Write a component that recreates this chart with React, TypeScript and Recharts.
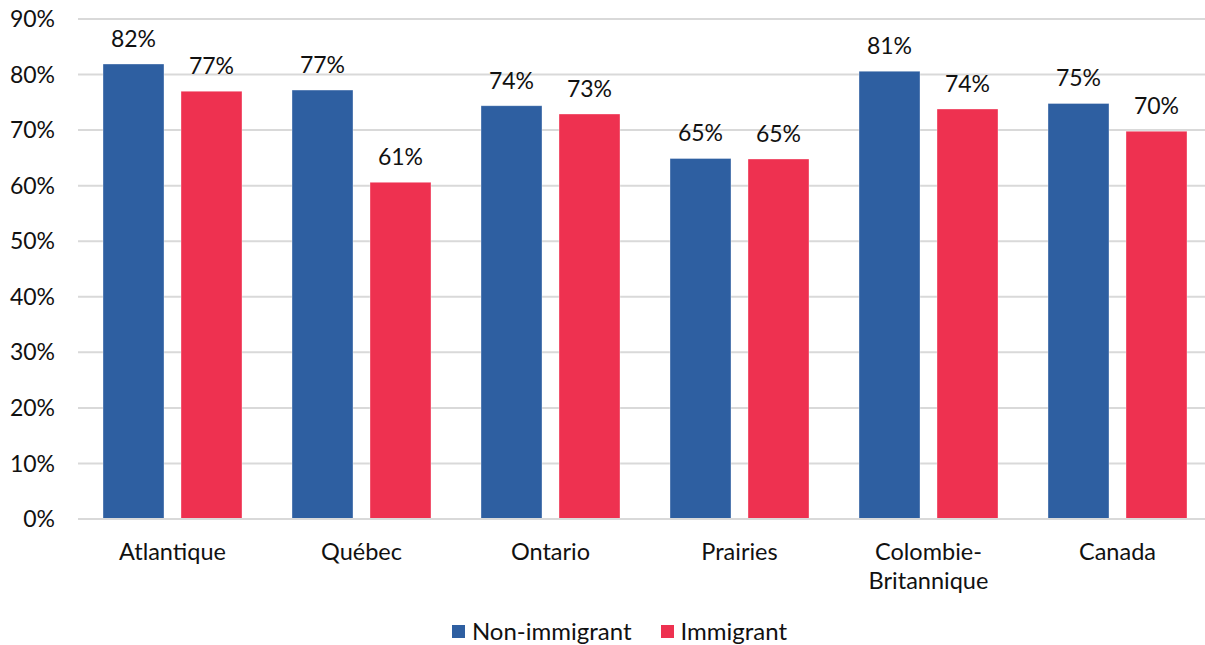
import { BarChart, Bar, XAxis, YAxis, CartesianGrid, Legend, LabelList } from 'recharts'

const REGIONS = ['Atlantique', 'Québec', 'Ontario', 'Prairies', 'Colombie-Britannique', 'Canada']
const NON_IMMIGRANT = [81.9, 77.2, 74.4, 64.9, 80.6, 74.8]
const IMMIGRANT = [77.0, 60.6, 72.9, 64.8, 73.8, 69.8]
const Y_TICKS = [0, 10, 20, 30, 40, 50, 60, 70, 80, 90]

const BLUE = '#2E5FA1'
const RED = '#EE3150'
const FONT = 'Lato, "Noto Sans", sans-serif'
const TEXT = '#111'

const data = REGIONS.map((region, i) => ({
  region,
  nonImmigrant: NON_IMMIGRANT[i],
  immigrant: IMMIGRANT[i],
}))

const pct = (v: unknown) => `${Math.round(Number(v))}%`

const RegionTick = ({ x, y, payload }: { x?: number; y?: number; payload?: { value: string } }) => {
  const label = payload?.value ?? ''
  const cut = label.indexOf('-')
  const lines = cut >= 0 ? [label.slice(0, cut + 1), label.slice(cut + 1)] : [label]
  return (
    <text x={x} y={(y ?? 0) + 33} textAnchor="middle" fill={TEXT} fontSize={23.5} fontFamily={FONT}>
      {lines.map((l, i) => (
        <tspan key={i} x={x} dy={i === 0 ? 0 : 29}>{l}</tspan>
      ))}
    </text>
  )
}

const LegendContent = () => (
  <div style={{
    display: 'flex', justifyContent: 'center', alignItems: 'center', gap: 29,
    height: 30, paddingLeft: 34, fontFamily: FONT, fontSize: 24, color: TEXT, lineHeight: '30px',
  }}>
    {[{ name: 'Non-immigrant', color: BLUE }, { name: 'Immigrant', color: RED }].map(item => (
      <div key={item.name} style={{ display: 'flex', alignItems: 'center', gap: 7 }}>
        <span style={{ width: 13, height: 13, background: item.color, display: 'inline-block' }} />
        <span>{item.name}</span>
      </div>
    ))}
  </div>
)

export default function App() {
  return (
    <div style={{ width: 1205, height: 645, overflow: 'hidden', background: '#fff' }}>
      <style>{'body { margin: 0; }'}</style>
      <BarChart
        width={1212}
        height={645}
        data={data}
        margin={{ top: 19, right: 0, left: 0, bottom: 0 }}
        barSize={61}
        barGap={17}
      >
        <CartesianGrid vertical={false} stroke="#d9d9d9" strokeWidth={2} />
        <XAxis
          dataKey="region"
          height={96}
          axisLine={{ stroke: '#d9d9d9', strokeWidth: 2 }}
          tickLine={false}
          interval={0}
          tick={<RegionTick />}
        />
        <YAxis
          width={78}
          domain={[0, 90]}
          ticks={Y_TICKS}
          tickFormatter={(v) => `${v}%`}
          axisLine={false}
          tickLine={false}
          tickMargin={17}
          tick={{ fill: TEXT, fontSize: 23, fontFamily: FONT }}
        />
        <Legend
          verticalAlign="bottom"
          height={30}
          content={<LegendContent />}
          wrapperStyle={{ top: 616, bottom: 'auto', left: 0, width: 1205, height: 30 }}
        />
        <Bar dataKey="nonImmigrant" name="Non-immigrant" fill={BLUE} stroke="#ffffff" strokeOpacity={0.35} isAnimationActive={false}>
          <LabelList dataKey="nonImmigrant" position="top" offset={17} formatter={pct}
            style={{ fill: TEXT, fontSize: 23, fontFamily: FONT }} />
        </Bar>
        <Bar dataKey="immigrant" name="Immigrant" fill={RED} stroke="#ffffff" strokeOpacity={0.35} isAnimationActive={false}>
          <LabelList dataKey="immigrant" position="top" offset={17} formatter={pct}
            style={{ fill: TEXT, fontSize: 23, fontFamily: FONT }} />
        </Bar>
      </BarChart>
    </div>
  )
}
